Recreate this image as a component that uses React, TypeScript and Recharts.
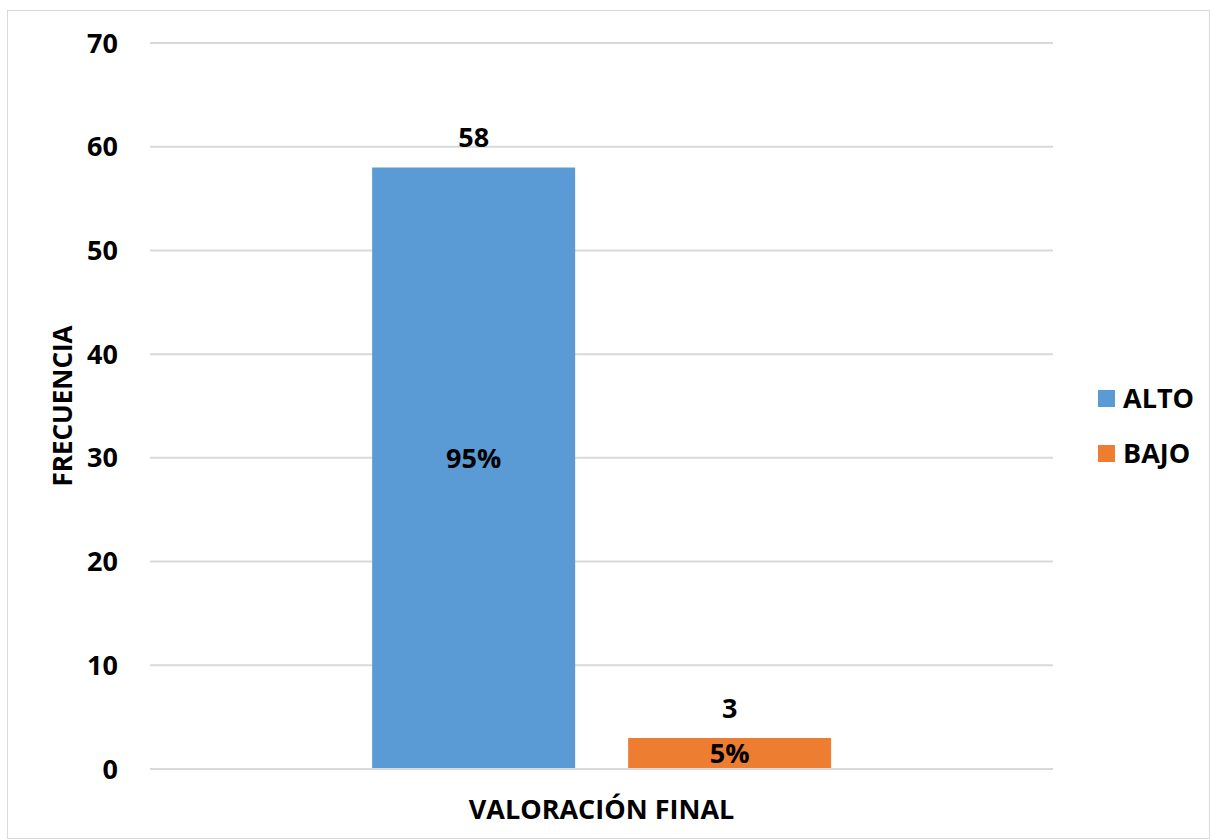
import { BarChart, Bar, XAxis, YAxis, CartesianGrid, Legend, LabelList } from "recharts";

const categories = ["VALORACIÓN FINAL"];
const altoValues = [58];
const bajoValues = [3];
const altoPercents = ["95%"];
const bajoPercents = ["5%"];
const yTicks = [0, 10, 20, 30, 40, 50, 60, 70];

const seriesInfo = [
  { key: "alto", name: "ALTO", color: "#5B9BD5", pctShift: -10 },
  { key: "bajo", name: "BAJO", color: "#ED7D31", pctShift: 0 },
];

const data = categories.map((c, i) => ({
  category: c,
  alto: altoValues[i],
  bajo: bajoValues[i],
  altoPct: altoPercents[i],
  bajoPct: bajoPercents[i],
}));

const font = "'Open Sans', sans-serif";

function LegendBox() {
  return (
    <div style={{ display: "flex", flexDirection: "column", gap: 25, fontFamily: font }}>
      {seriesInfo.map((s) => (
        <div key={s.key} style={{ display: "flex", alignItems: "center", gap: 8 }}>
          <div style={{ width: 17, height: 17, background: s.color }} />
          <span style={{ fontSize: 27, fontWeight: 700, color: "#000", lineHeight: "30px" }}>{s.name}</span>
        </div>
      ))}
    </div>
  );
}

export default function App() {
  return (
    <div
      style={{
        position: "absolute",
        left: 7,
        top: 10,
        width: 1201,
        height: 827,
        border: "1px solid #d9d9d9",
        background: "#fff",
      }}
    >
      <BarChart
        width={1201}
        height={827}
        data={data}
        margin={{ top: 32, right: 46, bottom: 29, left: 62 }}
        barCategoryGap="24.6%"
        barGap={53}
      >
        <CartesianGrid stroke="#d9d9d9" strokeWidth={2} vertical={false} />
        <XAxis
          dataKey="category"
          height={40}
          axisLine={{ stroke: "#d9d9d9", strokeWidth: 2 }}
          tickLine={false}
          tick={{ fill: "#000", fontSize: 27, fontWeight: 700, fontFamily: font, dy: 23 }}
        />
        <YAxis
          width={80}
          domain={[0, 70]}
          ticks={yTicks}
          axisLine={false}
          tickLine={false}
          tickMargin={26}
          tick={{ fill: "#000", fontSize: 27, fontWeight: 700, fontFamily: font }}
          label={{
            value: "FRECUENCIA",
            angle: -90,
            position: "insideLeft",
            textAnchor: "middle",
            dx: -12,
            style: { fill: "#000", fontSize: 26, fontWeight: 700, fontFamily: font, textAnchor: "middle" },
          }}
        />
        <Legend
          layout="vertical"
          align="right"
          verticalAlign="top"
          content={() => <LegendBox />}
          wrapperStyle={{ left: 1090, top: 372, width: 110 }}
        />
        {seriesInfo.map((s) => (
          <Bar key={s.key} dataKey={s.key} name={s.name} fill={s.color} isAnimationActive={false}>
            <LabelList
              dataKey={s.key}
              position="top"
              offset={20}
              style={{ fill: "#000", fontSize: 27, fontWeight: 700, fontFamily: font }}
            />
            <LabelList
              dataKey={s.key + "Pct"}
              position="center"
              dy={s.pctShift}
              style={{ fill: "#000", fontSize: 27, fontWeight: 700, fontFamily: font }}
            />
          </Bar>
        ))}
      </BarChart>
    </div>
  );
}
